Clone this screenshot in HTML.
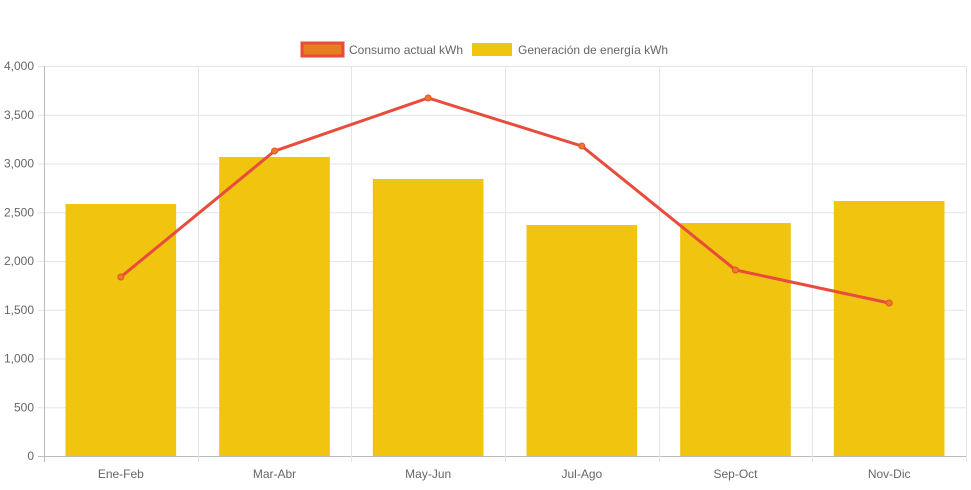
<!DOCTYPE html>
<html><head><meta charset="utf-8"><style>
body{margin:0;background:#fff;font-family:"Liberation Sans",sans-serif;}
svg text{font-family:"Liberation Sans",sans-serif;font-size:12px;fill:#666;}
</style></head><body>
<svg id="chart" width="971" height="485">
<g id="legend">
<g>
<rect x="302" y="43" width="41" height="13" fill="#e67e22" stroke="#e74c3c" stroke-width="3"/>
<text x="349" y="54">Consumo actual kWh</text></g>
<g>
<rect x="472" y="43" width="40" height="13" fill="#f1c40f"/>
<text x="518" y="54">Generación de energía kWh</text></g>
</g>
<g id="grid"></g><g id="bars"></g><g id="line"></g><g id="axes"></g>
</svg>
<script>
const categories=["Ene-Feb","Mar-Abr","May-Jun","Jul-Ago","Sep-Oct","Nov-Dic"];
const generacion=[2585,3067,2841,2369,2390,2615];
const consumo=[1836,3128,3672,3179,1908,1569];
const yTicks=[0,500,1000,1500,2000,2500,3000,3500,4000];
const tickLabels=["0","500","1,000","1,500","2,000","2,500","3,000","3,500","4,000"];
const NS="http://www.w3.org/2000/svg";
const L=44,R=966,T=66,B=456,yMax=4000;
const y=v=>B-(v/yMax)*(B-T);
const cw=(R-L)/categories.length;
const x=i=>L+cw*(i+0.5);
function mk(t,a,p){const e=document.createElementNS(NS,t);for(const k in a)e.setAttribute(k,a[k]);p.appendChild(e);return e;}
const grid=document.getElementById('grid'),axes=document.getElementById('axes');
yTicks.forEach((v,i)=>{
 const ln=mk('line',{x1:L-6,x2:R,y1:y(v)+0.5,y2:y(v)+0.5,stroke:i==0?'#bbb':'#e5e5e5'},grid);
 
 
 const t=mk('text',{x:L-10,y:y(v)+4,'text-anchor':'end'},axes);t.textContent=tickLabels[i];
 
 
});
for(let i=0;i<=categories.length;i++){
 const gx=Math.round(L+cw*i)+0.5;
 const ln=mk('line',{x1:gx,x2:gx,y1:T,y2:B+6,stroke:i==0?'#bbb':'#e5e5e5'},grid);
 
 
}
categories.forEach((c,i)=>{
 const t=mk('text',{x:x(i),y:478,'text-anchor':'middle'},axes);t.textContent=c;
 
 
});
const bars=document.getElementById('bars');const bw=cw*0.72;
generacion.forEach((v,i)=>{
 const r=mk('rect',{x:x(i)-bw/2,y:y(v),width:bw,height:B-y(v),fill:'#f1c40f'},bars);
 
 
});
const lg=document.getElementById('line');
const p=mk('polyline',{points:consumo.map((v,i)=>x(i)+','+y(v)).join(' '),fill:'none',stroke:'#e74c3c','stroke-width':3},lg);


consumo.forEach((v,i)=>{
 const c=mk('circle',{cx:x(i),cy:y(v),r:3,fill:'#e67e22',stroke:'#e74c3c','stroke-width':1},lg);
 
 
});
</script>
</body></html>
